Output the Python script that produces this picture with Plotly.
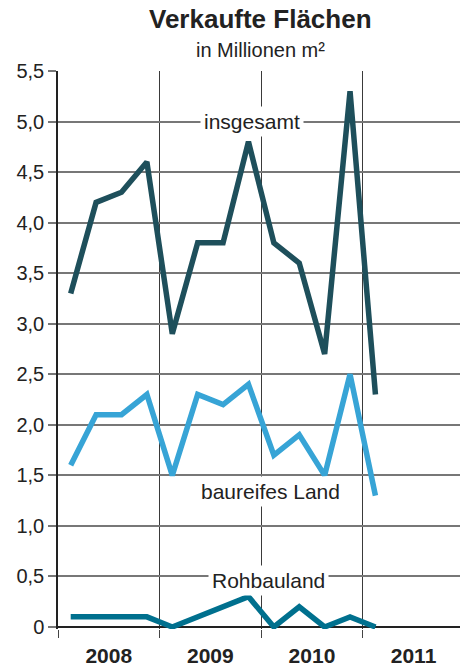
import plotly.graph_objects as go

quarters = list(range(13))  # 2008 Q1 .. 2011 Q1
insgesamt = [3.3, 4.2, 4.3, 4.6, 2.9, 3.8, 3.8, 4.8, 3.8, 3.6, 2.7, 5.3, 2.3]
baureifes = [1.6, 2.1, 2.1, 2.3, 1.5, 2.3, 2.2, 2.4, 1.7, 1.9, 1.5, 2.5, 1.3]
rohbau = [0.1, 0.1, 0.1, 0.1, 0.0, 0.1, 0.2, 0.3, 0.0, 0.2, 0.0, 0.1, 0.0]
years = ["2008", "2009", "2010", "2011"]
y_ticks = [0, 0.5, 1, 1.5, 2, 2.5, 3, 3.5, 4, 4.5, 5, 5.5]
y_labels = ["0", "0,5", "1,0", "1,5", "2,0", "2,5", "3,0", "3,5", "4,0", "4,5", "5,0", "5,5"]

xq = [q + 0.5 for q in quarters]
FONT = "Liberation Sans, Arial, Helvetica, sans-serif"

fig = go.Figure()
series = [
    ("insgesamt", insgesamt, "#1e4f5b"),
    ("baureifes Land", baureifes, "#37a4d6"),
    ("Rohbauland", rohbau, "#00708e"),
]
for name, vals, col in series:
    fig.add_trace(go.Scatter(x=xq, y=vals, mode="lines", name=name,
                             line=dict(color=col, width=5.5), showlegend=False))

labels = [
    ("insgesamt", 7.64, 5.0),
    ("baureifes Land", 8.35, 1.34),
    ("Rohbauland", 8.27, 0.455),
]
for txt, x, y in labels:
    fig.add_annotation(x=x, y=y, text=txt, showarrow=False, bgcolor="white",
                       borderpad=3, font=dict(family=FONT, size=21, color="#222"),
                       xanchor="center", yanchor="middle")

fig.add_annotation(xref="paper", yref="paper", x=0.5025, y=1.093,
                   text="<b>Verkaufte Flächen</b>", showarrow=False,
                   xanchor="center", yanchor="middle",
                   font=dict(family=FONT, size=26, color="#222"))
fig.add_annotation(xref="paper", yref="paper", x=0.5025, y=1.0376,
                   text="in Millionen m²", showarrow=False,
                   xanchor="center", yanchor="middle",
                   font=dict(family=FONT, size=20, color="#222"))

fig.update_layout(
    width=460, height=671, autosize=False,
    margin=dict(l=58, r=0, t=71, b=42),
    plot_bgcolor="white", paper_bgcolor="white",
    font=dict(family=FONT, color="#222"),
)
fig.update_xaxes(
    range=[0, 15.83], automargin=False,
    tickvals=[2, 6, 10, 14], ticktext=["<b>%s</b>" % y for y in years],
    ticks="", showgrid=False, showline=False, zeroline=False,
    ticklabelstandoff=12,
    tickfont=dict(family=FONT, size=21, color="#222"),
    minor=dict(tickvals=[0, 4, 8, 12], ticks="outside", ticklen=8, tickwidth=1,
               tickcolor="#444", showgrid=True, gridcolor="#3a3a3a", gridwidth=1),
)
fig.update_yaxes(
    range=[-0.02, 5.5], automargin=False,
    tickvals=y_ticks, ticktext=y_labels,
    ticks="outside", ticklen=8, tickcolor="#777", tickwidth=1.5,
    showgrid=True, gridcolor="#777", gridwidth=1.5,
    showline=True, linecolor="#222", linewidth=1.5,
    zeroline=True, zerolinecolor="#222", zerolinewidth=2,
    tickfont=dict(family=FONT, size=20, color="#222"),
)

fig.write_html("out.html", config={"displayModeBar": False},
               post_script="document.body.style.margin='0';")
